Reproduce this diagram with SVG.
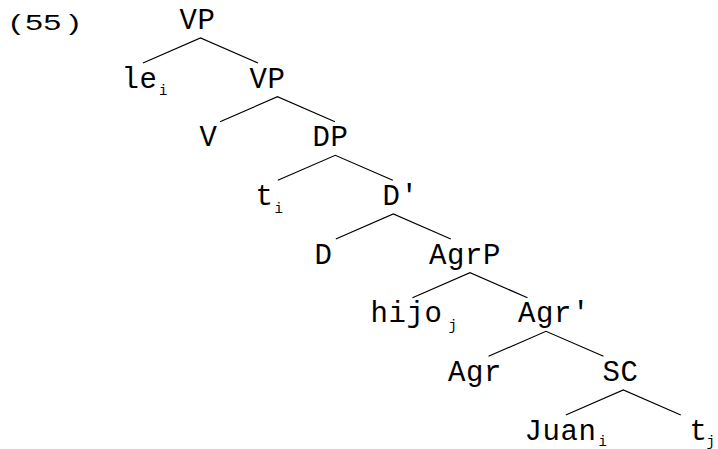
<svg xmlns="http://www.w3.org/2000/svg" width="718" height="449" viewBox="0 0 718 449">
<style>
.lbl{font-family:"Liberation Mono","Courier New",monospace;font-size:29px;letter-spacing:0.6px;fill:#000}
.sub{font-family:"Liberation Mono","Courier New",monospace;font-size:14px;fill:#000}
.num{font-family:"Liberation Sans",Arial,sans-serif;font-size:22px;fill:#000}
.br{fill:none;stroke:#000;stroke-width:1.2}
</style>
<rect width="718" height="449" fill="#fff"/>
<g id="label-55" transform="scale(1.44,1)"><text class="num" x="7 17.6 30.3 47.9" y="29.7">(55)</text></g>
<g id="connectors">
<path class="br" d="M143,63 L200.5,38 L258,63"/>
<path class="br" d="M220,121.7 L277.5,96.7 L335,121.7"/>
<path class="br" d="M277.8,180.3 L335.3,155.3 L392.8,180.3"/>
<path class="br" d="M335.8,239 L393.3,214 L450.8,239"/>
<path class="br" d="M412.5,297.7 L470,272.7 L527.5,297.7"/>
<path class="br" d="M488.5,356.3 L546,331.3 L603.5,356.3"/>
<path class="br" d="M565.8,415 L623.3,390 L680.8,415"/>
</g>
<g id="n-vp1"><text class="lbl" x="179.5" y="29">VP</text></g>
<g id="n-le"><text class="lbl" x="121.5" y="87.7">le</text><text class="sub" x="159" y="95">i</text></g>
<g id="n-vp2"><text class="lbl" x="249.5" y="87.7">VP</text></g>
<g id="n-v"><text class="lbl" x="199.5" y="146.3">V</text></g>
<g id="n-dp"><text class="lbl" x="312.5" y="146.3">DP</text></g>
<g id="n-t1"><text class="lbl" x="255.5" y="205">t</text><text class="sub" x="274.5" y="212.5">i</text></g>
<g id="n-dbar"><text class="lbl" x="382.5" y="205">D'</text></g>
<g id="n-d"><text class="lbl" x="314.5" y="263.7">D</text></g>
<g id="n-agrp"><text class="lbl" x="429" y="263.7">AgrP</text></g>
<g id="n-hijo"><text class="lbl" x="370.5" y="322.3">hijo</text><text class="sub" x="448.5" y="329.5">j</text></g>
<g id="n-agrbar"><text class="lbl" x="518" y="322.3">Agr'</text></g>
<g id="n-agr"><text class="lbl" x="448" y="381">Agr</text></g>
<g id="n-sc"><text class="lbl" x="602.5" y="381">SC</text></g>
<g id="n-juan"><text class="lbl" x="524.5" y="439.7">Juan</text><text class="sub" x="598.5" y="446">i</text></g>
<g id="n-t2"><text class="lbl" x="689.5" y="439.7">t</text><text class="sub" x="706.5" y="446">j</text></g>
</svg>
